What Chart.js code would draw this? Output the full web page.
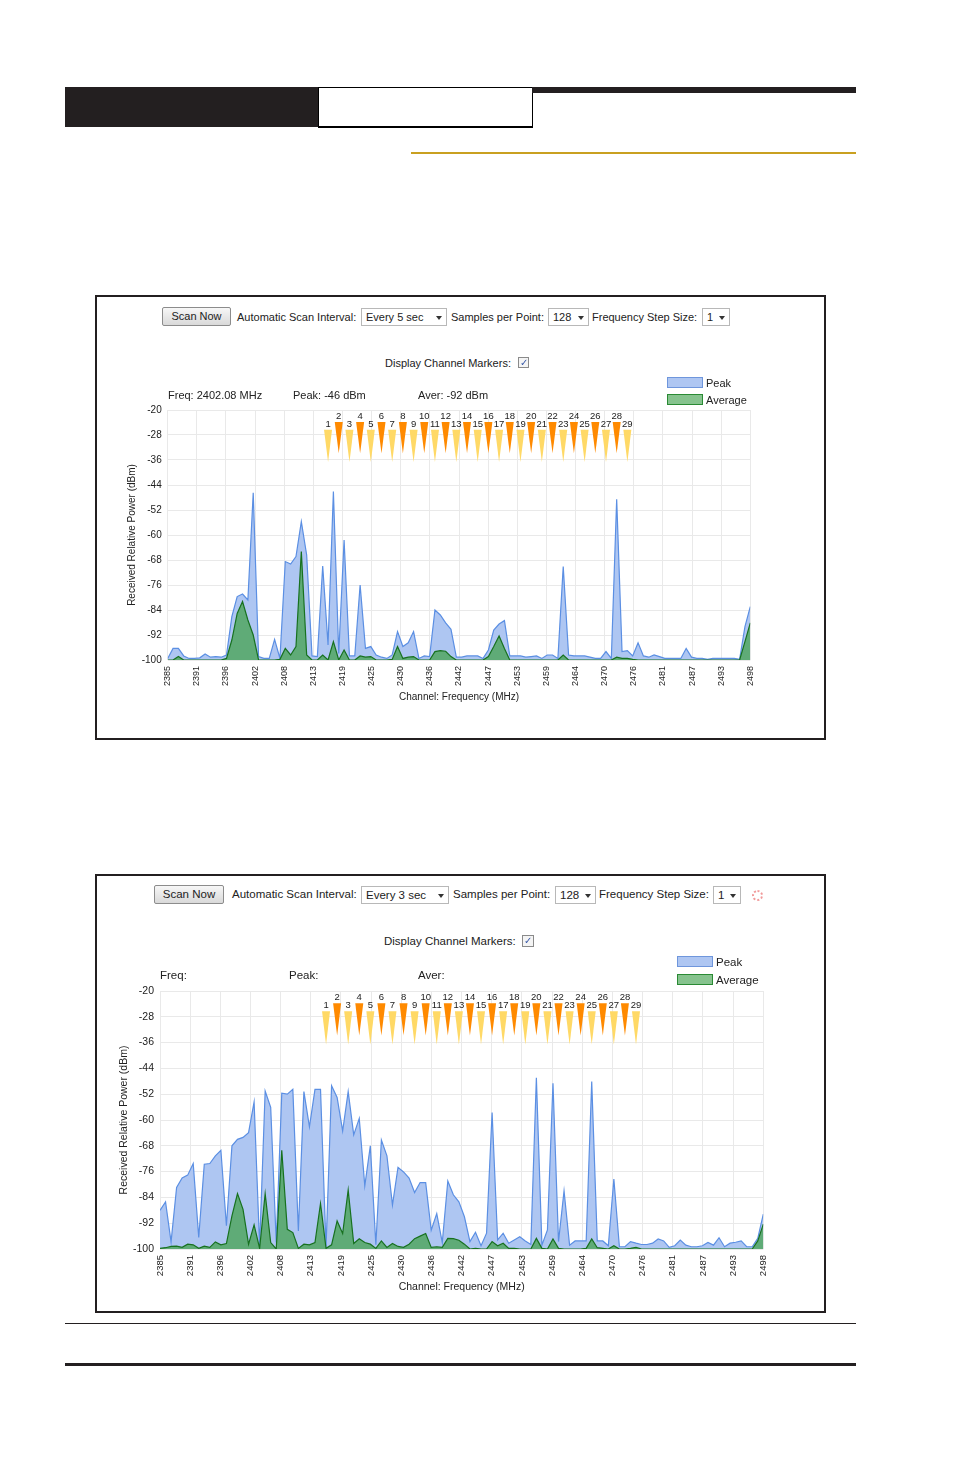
<!DOCTYPE html>
<html>
<head>
<meta charset="utf-8">
<script src="https://cdn.jsdelivr.net/npm/chart.js@4.4.1/dist/chart.umd.min.js"></script>
<style>
body { margin: 0; background: #fff; font-family: "Liberation Sans", Arial, sans-serif; color: #222; }
#page { position: relative; width: 954px; height: 1474px; overflow: hidden; }
.blk { position: absolute; box-sizing: border-box; }
.frame { position: absolute; box-sizing: border-box; border: 2px solid #231f20; }
.btn { position: absolute; box-sizing: border-box; border: 1px solid #8c8c8c; border-radius: 2px;
  background: linear-gradient(#f7f7f7, #d9d9d9); font-size: 11px; text-align: center; line-height: 17px; }
.sel { position: absolute; box-sizing: border-box; border: 1px solid #b8b8b8; background: #fff;
  font-size: 11px; line-height: 16px; padding-left: 4px; }
.sel:after { content: ""; position: absolute; right: 4px; top: 7px; border-left: 3px solid transparent;
  border-right: 3px solid transparent; border-top: 4px solid #333; }
.txt { position: absolute; font-size: 11px; line-height: 14px; white-space: nowrap; }
.chk { position: absolute; box-sizing: border-box; border: 1px solid #8a8a8a; background: #f4f4f4;
  font-size: 10px; line-height: 9px; color: #3a5aa8; text-align: center; }
.leg { position: absolute; box-sizing: border-box; width: 36px; height: 11px; }
.spin { position: absolute; box-sizing: border-box; width: 11px; height: 11px; border-radius: 50%;
  border: 2.5px dotted #f19a9a; }
canvas { position: absolute; }
</style>
</head>
<body>
<div id="page">
  <!-- header -->
  <div class="blk" style="left:65px;top:87px;width:253px;height:40px;background:#231f20"></div>
  <div class="blk" style="left:318px;top:87px;width:215px;height:41px;border:1.5px solid #000;border-bottom-width:2.5px;background:#fff"></div>
  <div class="blk" style="left:532px;top:87px;width:324px;height:6px;background:#231f20"></div>
  <div class="blk" style="left:411px;top:152px;width:445px;height:2px;background:#c9a020"></div>

  <!-- footer -->
  <div class="blk" style="left:65px;top:1323px;width:791px;height:1px;background:#231f20"></div>
  <div class="blk" style="left:65px;top:1363px;width:791px;height:2.5px;background:#231f20"></div>

  <div class="frame" style="left:95px;top:295px;width:731px;height:445px"></div>
  <div class="frame" style="left:95px;top:874px;width:731px;height:439px"></div>

  <canvas id="chartTop"></canvas>
  <canvas id="chartBottom"></canvas>
</div>

<script>
// sample index -> value (dBm); one point per frequency step
const topPeak = [
  -99.5, -96.3, -96.3, -98.7, -99.5, -99.5, -99.3, -98.1, -99.1, -98.9,
  -99.1, -98.4, -86.1, -79.7, -78.9, -80.8, -46.5, -98.9, -99.5, -99.5,
  -93.4, -99.5, -68.5, -69.3, -66.9, -55.7, -66.4, -98.7, -98.9, -69.9,
  -95.2, -46.1, -97.9, -61.6, -98.7, -98.7, -76.0, -96.3, -95.7, -98.4,
  -99.1, -99.5, -98.4, -90.9, -95.7, -94.5, -90.9, -99.5, -98.7, -98.9,
  -84.0, -85.6, -88.1, -90.2, -99.1, -99.1, -98.7, -98.7, -98.7, -99.5,
  -96.8, -90.4, -88.5, -87.4, -98.7, -98.7, -98.7, -99.1, -98.9, -98.7,
  -99.5, -98.4, -98.4, -99.5, -70.1, -98.4, -98.7, -98.7, -98.7, -99.1,
  -99.5, -99.5, -97.3, -99.5, -48.6, -97.3, -97.0, -98.7, -94.5, -98.7,
  -99.1, -98.4, -98.9, -99.5, -99.5, -99.5, -99.5, -96.3, -99.1, -99.5,
  -99.5, -99.8, -99.5, -99.5, -99.5, -99.5, -99.5, -99.8, -89.3, -82.9
];
const topAvg = [
  -100, -100, -98.9, -100, -100, -100, -100, -100, -100, -100,
  -100, -99.5, -93.6, -85.1, -81.3, -87.2, -92.0, -100, -100, -100,
  -100, -99.8, -96.3, -98.4, -95.7, -65.3, -98.4, -100, -100, -98.4,
  -100, -94.1, -100, -96.8, -100, -100, -98.7, -99.1, -98.9, -100,
  -100, -100, -99.8, -95.7, -99.5, -99.1, -98.9, -100, -100, -100,
  -97.3, -97.0, -97.2, -98.9, -100, -100, -100, -100, -100, -100,
  -98.9, -95.7, -92.3, -96.3, -100, -100, -100, -100, -100, -100,
  -100, -100, -100, -100, -98.4, -100, -100, -100, -100, -100,
  -100, -100, -100, -100, -99.1, -99.5, -99.5, -99.8, -100, -100,
  -100, -100, -100, -100, -100, -100, -100, -100, -100, -100,
  -100, -100, -100, -100, -100, -100, -100, -100, -94.1, -88.1
];
const bottomPeak = [
  -88.0, -85.4, -97.8, -80.9, -78.0, -77.1, -73.5, -96.4, -73.7, -73.5,
  -71.1, -69.4, -92.8, -68.0, -66.0, -65.4, -63.9, -54.4, -99.0, -51.0,
  -56.1, -98.0, -51.7, -52.0, -50.5, -94.4, -51.2, -62.1, -50.5, -50.5,
  -99.5, -49.4, -53.0, -63.4, -51.2, -64.6, -59.5, -80.4, -68.0, -98.7,
  -66.2, -71.1, -86.4, -74.7, -76.1, -78.0, -82.5, -79.4, -79.4, -94.2,
  -89.0, -98.0, -78.9, -83.2, -85.4, -90.0, -97.7, -94.8, -99.0, -95.1,
  -57.7, -97.2, -95.1, -98.2, -97.2, -96.2, -97.5, -98.6, -46.9, -98.8,
  -94.1, -48.6, -97.7, -82.0, -98.8, -97.5, -97.5, -97.5, -48.1, -97.5,
  -97.5, -99.0, -78.3, -99.3, -99.3, -97.7, -98.2, -98.6, -98.6, -98.2,
  -96.9, -97.5, -99.5, -99.0, -97.2, -98.8, -99.3, -99.3, -99.0, -98.0,
  -98.8, -96.5, -99.3, -98.2, -97.9, -97.5, -99.3, -99.3, -96.7, -89.2
];
const bottomAvg = [
  -99.8, -99.6, -99.2, -99.1, -99.5, -98.5, -98.7, -99.8, -99.1, -99.5,
  -97.8, -98.7, -98.3, -89.7, -82.8, -87.7, -98.5, -92.5, -99.8, -82.8,
  -98.0, -100, -69.4, -93.9, -94.9, -99.8, -98.5, -98.7, -98.0, -85.9,
  -99.8, -98.7, -91.3, -95.2, -81.7, -98.3, -96.8, -98.0, -98.5, -99.8,
  -97.5, -99.5, -98.3, -99.2, -99.5, -98.5, -96.8, -96.0, -95.2, -99.5,
  -99.3, -99.5, -96.7, -96.8, -97.3, -98.5, -100, -99.8, -100, -100,
  -97.7, -99.0, -98.2, -99.8, -99.8, -100, -100, -100, -96.7, -99.8,
  -100, -96.9, -99.8, -100, -100, -100, -100, -99.8, -96.9, -99.6,
  -99.8, -100, -99.0, -100, -100, -99.8, -99.5, -100, -100, -100,
  -100, -100, -100, -100, -100, -100, -100, -100, -100, -100,
  -100, -100, -100, -100, -100, -100, -100, -100, -97.5, -92.3
];

const freqTickLabels = [
  "2385", "2391", "2396", "2402", "2408", "2413", "2419", "2425", "2430", "2436", "2442",
  "2447", "2453", "2459", "2464", "2470", "2476", "2481", "2487", "2493", "2498"
];
const powerTicks = [-20, -28, -36, -44, -52, -60, -68, -76, -84, -92, -100];

const markerChannels = [1, 2, 3, 4, 5, 6, 7, 8, 9, 10, 11, 12, 13, 14, 15, 16, 17, 18, 19, 20,
  21, 22, 23, 24, 25, 26, 27, 28, 29];
const markerIndex = [30, 32, 34, 36, 38, 40, 42, 44, 46, 48, 50, 52, 54, 56, 58, 60, 62, 64, 66, 68,
  70, 72, 74, 76, 78, 80, 82, 84, 86];

const page = document.getElementById("page");

function addText(x, y, str, size) {
  const d = document.createElement("div");
  d.className = "txt";
  d.style.left = x + "px";
  d.style.top = (y - 7) + "px";
  if (size) d.style.fontSize = size + "px";
  d.textContent = str;
  page.appendChild(d);
  return d;
}

function addBox(cls, x, y, w, h, str, size) {
  const d = document.createElement("div");
  d.className = cls;
  d.style.left = x + "px";
  d.style.top = y + "px";
  d.style.width = w + "px";
  d.style.height = h + "px";
  if (size) d.style.fontSize = size + "px";
  if (str) d.textContent = str;
  page.appendChild(d);
  return d;
}

function addLegend(x, y1, y2, size) {
  const p = addBox("leg", x, y1, 36, 11);
  p.style.background = "#aec6f2";
  p.style.border = "1px solid #6f96dc";
  const a = addBox("leg", x, y2, 36, 11);
  a.style.background = "#86c38e";
  a.style.border = "1px solid #2a8a34";
  addText(x + 39, y1 + 6, "Peak", size);
  addText(x + 39, y2 + 6, "Average", size);
}

// top panel controls
addBox("btn", 162, 307, 69, 19, "Scan Now");
addText(237, 317, "Automatic Scan Interval:");
addBox("sel", 361, 308, 86, 18, "Every 5 sec");
addText(451, 317, "Samples per Point:");
addBox("sel", 548, 308, 41, 18, "128");
addText(592, 317, "Frequency Step Size:");
addBox("sel", 702, 308, 28, 18, "1");
addText(385, 363, "Display Channel Markers:");
addBox("chk", 518, 357, 11, 11, "\u2713");
addLegend(667, 377, 394);
addText(168, 395, "Freq: 2402.08 MHz");
addText(293, 395, "Peak: -46 dBm");
addText(418, 395, "Aver: -92 dBm");

// bottom panel controls (screenshot is a little larger)
addBox("btn", 154, 885, 70, 19, "Scan Now", 11.5);
addText(232, 894, "Automatic Scan Interval:", 11.5);
addBox("sel", 361, 886, 88, 18, "Every 3 sec", 11.5);
addText(453, 894, "Samples per Point:", 11.5);
addBox("sel", 555, 886, 41, 18, "128", 11.5);
addText(599, 894, "Frequency Step Size:", 11.5);
addBox("sel", 713, 886, 28, 18, "1", 11.5);
addBox("spin", 752, 890, 11, 11);
addText(384, 941, "Display Channel Markers:", 11.5);
addBox("chk", 522, 935, 12, 12, "\u2713");
addLegend(677, 956, 974, 11.5);
addText(160, 975, "Freq:", 11.5);
addText(289, 975, "Peak:", 11.5);
addText(418, 975, "Aver:", 11.5);

const markerPlugin = {
  id: "channelMarkers",
  afterDatasetsDraw(chart) {
    const xs = chart.scales.x;
    const ys = chart.scales.y;
    const ctx = chart.ctx;
    ctx.save();
    ctx.font = "9.5px 'Liberation Sans', Arial";
    ctx.textAlign = "center";
    ctx.textBaseline = "middle";
    markerChannels.forEach((ch, i) => {
      const x = xs.getPixelForValue(markerIndex[i]);
      const odd = ch % 2 === 1;
      const top = ys.getPixelForValue(odd ? -26.3 : -23.8);
      const tip = ys.getPixelForValue(odd ? -36.6 : -33.8);
      ctx.fillStyle = odd ? "#ffd966" : "#ff8a00";
      ctx.beginPath();
      ctx.moveTo(x - 4, top);
      ctx.lineTo(x + 4, top);
      ctx.lineTo(x, tip);
      ctx.closePath();
      ctx.fill();
      ctx.fillStyle = "#222";
      ctx.fillText(String(ch), x, ys.getPixelForValue(odd ? -24.6 : -22.0));
    });
    ctx.restore();
  }
};

function crearGrafico(id, box, peak, avg) {
  const canvas = document.getElementById(id);
  canvas.style.left = box.left + "px";
  canvas.style.top = box.top + "px";
  canvas.style.width = box.width + "px";
  canvas.style.height = box.height + "px";
  canvas.width = box.width;
  canvas.height = box.height;
  const last = peak.length - 1;

  return new Chart(canvas.getContext("2d"), {
    type: "line",
    data: {
      datasets: [
        {
          label: "Peak",
          data: peak.map((v, i) => ({ x: i, y: v })),
          borderColor: "#5b8fe3",
          backgroundColor: "#aec6f2",
          borderWidth: 1.2,
          fill: "start",
          order: 2,
        },
        {
          label: "Average",
          data: avg.map((v, i) => ({ x: i, y: v })),
          borderColor: "#17711f",
          backgroundColor: "#5fab77",
          borderWidth: 1.2,
          fill: "start",
          order: 1,
        },
      ],
    },
    options: {
      responsive: false,
      animation: false,
      devicePixelRatio: 1,
      layout: { padding: { top: box.padTop, right: box.padRight, left: 0, bottom: 0 } },
      elements: { point: { radius: 0 }, line: { tension: 0 } },
      plugins: { legend: { display: false }, tooltip: { enabled: false } },
      scales: {
        x: {
          type: "linear",
          min: 0,
          max: last,
          afterBuildTicks: (scale) => {
            scale.ticks = freqTickLabels.map((l, i) => ({ value: (i * last) / (freqTickLabels.length - 1) }));
          },
          afterFit: (scale) => {
            scale.height = box.xHeight;
            scale.paddingLeft = 0;
            scale.paddingRight = 0;
          },
          grid: { color: "#e9e9e9", drawTicks: false },
          border: { display: false },
          ticks: {
            autoSkip: false,
            minRotation: 90,
            maxRotation: 90,
            padding: box.xPad,
            color: "#222",
            font: { size: box.xFont },
            callback: (v, i) => freqTickLabels[i],
          },
          title: {
            display: true,
            text: "Channel: Frequency (MHz)",
            color: "#222",
            font: { size: box.titleFont },
            padding: { top: 0, bottom: box.xTitlePad },
          },
        },
        y: {
          min: -100,
          max: -20,
          afterBuildTicks: (scale) => {
            scale.ticks = powerTicks.map((v) => ({ value: v }));
          },
          afterFit: (scale) => {
            scale.width = box.yWidth;
            scale.paddingTop = 0;
            scale.paddingBottom = 0;
          },
          grid: { color: "#e9e9e9", drawTicks: false },
          border: { display: false },
          ticks: { padding: 6, color: "#222", font: { size: box.yFont } },
          title: {
            display: true,
            text: "Received Relative Power (dBm)",
            color: "#222",
            font: { size: box.titleFont },
            padding: { top: box.yTitlePad, bottom: 0 },
          },
        },
      },
    },
    plugins: [markerPlugin],
  });
}

Chart.defaults.font.family = "'Liberation Sans', Arial, sans-serif";

crearGrafico("chartTop", {
  left: 110, top: 400, width: 650, height: 308,
  padTop: 10, padRight: 9.7, yWidth: 57.7, xHeight: 48,
  xPad: 6, xTitlePad: 5, yTitlePad: 16, xFont: 9, yFont: 10, titleFont: 10,
}, topPeak, topAvg);

crearGrafico("chartBottom", {
  left: 103, top: 981, width: 670, height: 316,
  padTop: 10, padRight: 9.7, yWidth: 57, xHeight: 48,
  xPad: 6, xTitlePad: 4, yTitlePad: 15, xFont: 9.5, yFont: 10.5, titleFont: 10.5,
}, bottomPeak, bottomAvg);
</script>
</body>
</html>
